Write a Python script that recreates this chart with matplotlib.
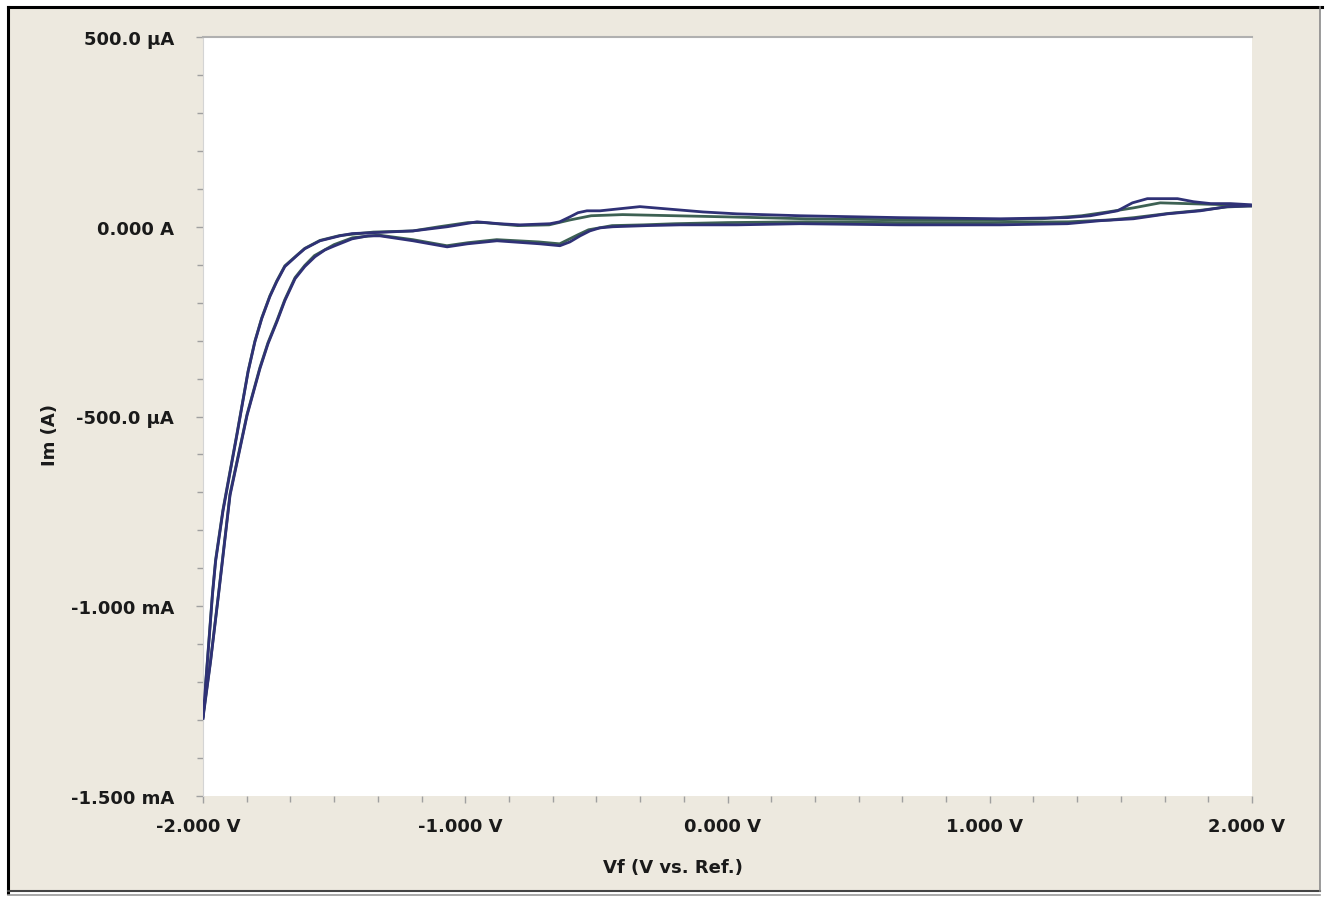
import numpy as np
import matplotlib.pyplot as plt
from matplotlib.ticker import AutoMinorLocator
from matplotlib.lines import Line2D
from matplotlib.patches import Rectangle
from matplotlib.transforms import ScaledTranslation

# cycle 1, positive-going scan (V, uA)
c1_fwd_v = [-2.000, -1.983, -1.964, -1.952, -1.924, -1.871, -1.828, -1.802, -1.776, -1.745,
            -1.719, -1.688, -1.642, -1.612, -1.554, -1.478, -1.432, -1.363, -1.268, -1.199,
            -1.069, -0.955, -0.870, -0.791, -0.677, -0.640, -0.601, -0.570, -0.536, -0.486,
            -0.334, -0.231, -0.093, 0.036, 0.277, 0.658, 1.040, 1.296, 1.384, 1.487,
            1.544, 1.601, 1.716, 1.777, 1.842, 1.918, 1.994]
c1_fwd_i = [-1295, -1145, -971, -882, -750, -550, -382, -303, -242, -184,
            -145, -105, -76, -58, -37, -24, -18, -16, -13, -11,
            0, 13, 8, 5, 8, 13, 26, 37, 42, 42,
            53, 47, 39, 34, 29, 24, 21, 24, 29, 42,
            63, 74, 74, 66, 61, 61, 58]

# cycle 1, negative-going scan
c1_rev_v = [1.994, 1.906, 1.803, 1.677, 1.548, 1.422, 1.296, 1.040, 0.658, 0.277,
            0.036, -0.181, -0.307, -0.437, -0.487, -0.525, -0.562, -0.601, -0.639, -0.715,
            -0.879, -0.992, -1.069, -1.199, -1.325, -1.371, -1.432, -1.497, -1.535, -1.573,
            -1.612, -1.649, -1.688, -1.718, -1.752, -1.783, -1.832, -1.897, -1.926, -1.941,
            -1.971, -2.000]
c1_rev_i = [55, 53, 42, 34, 21, 16, 8, 5, 5, 8,
            5, 5, 3, 0, -3, -11, -24, -40, -50, -45,
            -37, -45, -53, -37, -24, -24, -32, -50, -61, -79,
            -105, -137, -195, -250, -308, -374, -497, -708, -882, -971,
            -1145, -1295]

# cycle 2, positive-going scan
c2_fwd_v = [-2.000, -1.983, -1.964, -1.952, -1.924, -1.871, -1.828, -1.802, -1.776, -1.745,
            -1.719, -1.688, -1.642, -1.612, -1.554, -1.478, -1.350, -1.200, -1.100, -0.990,
            -0.930, -0.800, -0.680, -0.600, -0.520, -0.400, -0.200, 0.000, 0.300, 0.700,
            1.000, 1.200, 1.350, 1.450, 1.550, 1.650, 1.800, 1.950, 2.000]
c2_fwd_i = [-1290, -1140, -966, -878, -746, -547, -380, -301, -240, -182,
            -143, -103, -75, -57, -36, -23, -14, -11, 0, 11,
            11, 3, 5, 18, 29, 32, 29, 26, 21, 18,
            18, 21, 29, 39, 50, 63, 60, 57, 55]

# cycle 2, negative-going scan
c2_rev_v = [2.000, 1.900, 1.800, 1.680, 1.550, 1.460, 1.300, 1.000, 0.650, 0.300,
            0.000, -0.200, -0.320, -0.440, -0.530, -0.570, -0.640, -0.720, -0.880, -0.990,
            -1.070, -1.200, -1.330, -1.430, -1.500, -1.575, -1.612, -1.649, -1.688, -1.718,
            -1.752, -1.783, -1.832, -1.897, -1.926, -1.941, -1.971, -2.000]
c2_rev_i = [55, 52, 43, 35, 24, 18, 13, 11, 11, 13,
            11, 8, 5, 3, -8, -21, -45, -40, -34, -42,
            -50, -34, -22, -29, -47, -76, -102, -134, -192, -247,
            -305, -371, -494, -704, -878, -968, -1142, -1290]

x_ticks = [-2, -1, 0, 1, 2]
x_tick_labels = ["-2.000 V", "-1.000 V", "0.000 V", "1.000 V", "2.000 V"]
y_ticks = [-1500, -1000, -500, 0, 500]
y_tick_labels = ["-1.500 mA", "-1.000 mA", "-500.0 µA", "0.000 A", "500.0 µA"]

W, H = 1325, 904
beige = "#ede9df"
font = dict(family="DejaVu Sans", fontweight="bold", fontsize=13, color="#1a1a1a")

fig = plt.figure(figsize=(W / 100, H / 100), dpi=100)
fig.patch.set_facecolor("white")

# window frame
fig.add_artist(Rectangle((8 / W, 1 - 893 / H), (1320 - 8) / W, (893 - 8) / H,
                         transform=fig.transFigure, facecolor=beige, edgecolor="none", zorder=0))
fig.add_artist(Line2D([8 / W, 1322 / W], [1 - 8 / H, 1 - 8 / H], color="black", lw=2.2))
fig.add_artist(Line2D([8 / W, 8 / W], [1 - 8 / H, 1 - 894 / H], color="black", lw=2.2))
fig.add_artist(Line2D([8 / W, 1320 / W], [1 - 892 / H, 1 - 892 / H], color="#444444", lw=1.5))
fig.add_artist(Line2D([8 / W, 1320 / W], [1 - 896 / H, 1 - 896 / H], color="#9a9a9a", lw=1.2))
fig.add_artist(Line2D([1320 / W, 1320 / W], [1 - 8 / H, 1 - 892 / H], color="#8a8a8a", lw=1.2))

ax = fig.add_axes([203 / W, 1 - 797 / H, 1049 / W, 759 / H])
ax.set_facecolor("white")

ax.plot(c2_fwd_v, c2_fwd_i, color="#3d6153", lw=2.0, zorder=2)
ax.plot(c2_rev_v, c2_rev_i, color="#3d6153", lw=2.0, zorder=2)
ax.plot(c1_fwd_v, c1_fwd_i, color="#2f3176", lw=2.0, zorder=3)
ax.plot(c1_rev_v, c1_rev_i, color="#2f3176", lw=2.0, zorder=3)

ax.set_xlim(-2, 2)
ax.set_ylim(-1500, 500)
ax.set_xticks(x_ticks)
ax.set_xticklabels(x_tick_labels, **font)
ax.set_yticks(y_ticks)
ax.set_yticklabels(y_tick_labels, **font)
ax.xaxis.set_minor_locator(AutoMinorLocator(6))
ax.yaxis.set_minor_locator(AutoMinorLocator(5))
ax.tick_params(axis="both", which="both", direction="out", color="#a0a0a0", width=1)
ax.tick_params(axis="both", which="major", length=5)
ax.tick_params(axis="both", which="minor", length=4)
ax.tick_params(axis="x", which="major", pad=10)
ax.tick_params(axis="y", which="major", pad=16)

# x labels sit a little left of their ticks in the original
shift = ScaledTranslation(-5 / 100, 0, fig.dpi_scale_trans)
for lab in ax.get_xticklabels():
    lab.set_transform(lab.get_transform() + shift)

ax.spines["top"].set_color("#b0b0b0")
ax.spines["top"].set_linewidth(1.5)
ax.spines["left"].set_color("#d4d4d4")
ax.spines["right"].set_visible(False)
ax.spines["bottom"].set_visible(False)

fig.text(50 / W, 1 - 435 / H, "Im (A)", rotation=90, ha="center", va="center", **font)
fig.text(673 / W, 1 - 868 / H, "Vf (V vs. Ref.)", ha="center", va="center", **font)

plt.savefig("out.png", dpi=100, facecolor=fig.get_facecolor())
